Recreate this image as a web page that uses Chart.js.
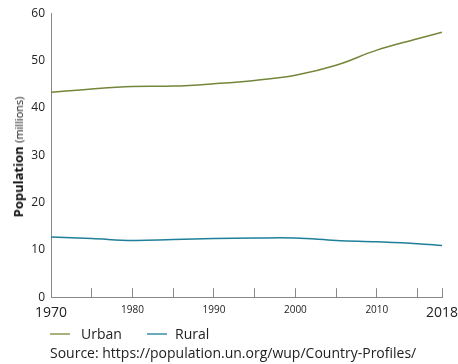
<!DOCTYPE html>
<html>
<head>
<meta charset="utf-8">
<script src="https://cdn.jsdelivr.net/npm/chart.js@4/dist/chart.umd.min.js"></script>
<style>
  html, body { margin: 0; padding: 0; background: #fff; }
  body { width: 458px; height: 364px; position: relative; overflow: hidden; font-family: "Open Sans", "Noto Sans", sans-serif; color: #222; }
  #wrap { position: absolute; left: 0; top: 0; width: 458px; height: 324px; }
  #ytitle { position: absolute; left: 18px; top: 157px; transform: translate(-50%, -50%) rotate(-90deg); white-space: nowrap; font-size: 13px; color: #111; }
  #ytitle b { font-weight: 700; }
  #ytitle span { font-size: 11px; }
  .leg { position: absolute; top: 324px; font-size: 14px; color: #222; }
  .sw { position: absolute; top: 333px; height: 2px; width: 20px; }
  #src { position: absolute; left: 50px; top: 343px; font-size: 14px; color: #222; white-space: nowrap; }
</style>
</head>
<body>
<div id="wrap"><canvas id="c" width="458" height="337"></canvas></div>
<div id="ytitle"><b>Population</b> <span>(millions)</span></div>
<div class="sw" style="left:50px;background:#a9b27e"></div>
<div class="leg" style="left:81px">Urban</div>
<div class="sw" style="left:147px;background:#6aaac0"></div>
<div class="leg" style="left:175px">Rural</div>
<div id="src">Source: https://population.un.org/wup/Country-Profiles/</div>
<script>
const years = [1970, 1975, 1980, 1985, 1990, 1995, 2000, 2005, 2010, 2015, 2018];
const urban = [43.3, 44.0, 44.5, 44.6, 45.1, 45.8, 46.9, 49.0, 52.2, 54.6, 56.0];
const rural = [12.7, 12.4, 12.0, 12.2, 12.4, 12.5, 12.5, 12.0, 11.7, 11.3, 10.9];
const xTicks = [1970, 1975, 1980, 1985, 1990, 1995, 2000, 2005, 2010, 2015, 2018];
const xLabels = { 1970: '1970', 1980: '1980', 1990: '1990', 2000: '2000', 2010: '2010', 2018: '2018' };
const yTicks = [0, 10, 20, 30, 40, 50, 60];

const toPts = (arr) => years.map((y, i) => ({ x: y, y: arr[i] }));

new Chart(document.getElementById('c'), {
  type: 'line',
  data: {
    datasets: [
      { label: 'Urban', data: toPts(urban), borderColor: '#74863a', borderWidth: 1.5, pointRadius: 0, tension: 0.4, fill: false },
      { label: 'Rural', data: toPts(rural), borderColor: '#1f7f9a', borderWidth: 1.5, pointRadius: 0, tension: 0.4, fill: false }
    ]
  },
  options: {
    responsive: false,
    animation: false,
    layout: { padding: { left: 0, right: 0, top: 10, bottom: 0 } },
    plugins: { legend: { display: false }, tooltip: { enabled: false } },
    scales: {
      x: {
        type: 'linear',
        min: 1970, max: 2018,
        afterBuildTicks: (s) => { s.ticks = xTicks.map(v => ({ value: v })); },
        afterFit: (s) => { s.paddingRight = 16; s.paddingLeft = 0; },
        grid: { display: true, drawOnChartArea: false, drawTicks: true, tickLength: -9, color: '#888', lineWidth: 1 },
        border: { display: true, color: '#888', width: 1 },
        ticks: {
          autoSkip: false,
          maxRotation: 0,
          padding: 16,
          color: '#222',
          callback: (v) => xLabels[v] || '',
          font: (ctx) => {
            const v = ctx.tick ? ctx.tick.value : 0;
            return (v === 1970 || v === 2018) ? { family: 'Open Sans', size: 14 } : { family: 'Open Sans', size: 10 };
          }
        }
      },
      y: {
        min: 0, max: 60,
        afterFit: (s) => { s.width = 51; },
        afterBuildTicks: (s) => { s.ticks = yTicks.map(v => ({ value: v })); },
        grid: { display: false, drawTicks: false },
        border: { display: true, color: '#888', width: 1 },
        ticks: { padding: 6, color: '#222', font: { family: 'Open Sans', size: 12 } }
      }
    }
  }
});
</script>
</body>
</html>
